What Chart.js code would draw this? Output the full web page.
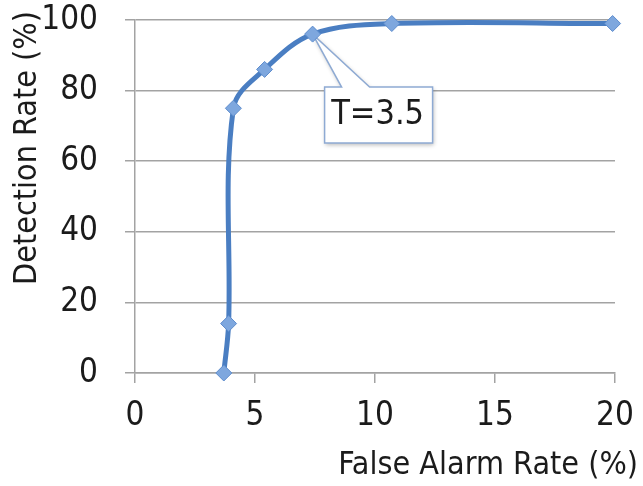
<!DOCTYPE html>
<html>
<head>
<meta charset="utf-8">
<script src="https://cdn.jsdelivr.net/npm/chart.js@4/dist/chart.umd.min.js"></script>
<style>
  html, body { margin: 0; padding: 0; background: #ffffff; }
  #c { display: block; }
</style>
</head>
<body>
<canvas id="c" width="643" height="486"></canvas>
<script>
// ROC-style curve: detection rate vs. false alarm rate for varying threshold T
const falseAlarmRate = [3.7, 3.9, 4.1, 5.4, 7.4, 10.7, 19.9];
const detectionRate  = [0, 14, 75, 86, 96, 99, 99];

const xTickValues = [0, 5, 10, 15, 20];
const yTickValues = [0, 20, 40, 60, 80, 100];

const xTitle = 'False Alarm Rate (%)';
const yTitle = 'Detection Rate (%)';

// operating point highlighted with a callout
const calloutIndex = 4;
const calloutText = 'T=3.5';

const FONT = "'Liberation Sans Narrow', 'DejaVu Sans Condensed', 'Liberation Sans', sans-serif";
const AXIS_GREY = '#a3a3a3';
const TEXT = '#1b1b1b';

const points = falseAlarmRate.map((x, i) => ({ x: x, y: detectionRate[i] }));

// Callout box with a wedge pointing at the selected point
const calloutPlugin = {
  id: 'callout',
  beforeDatasetsDraw(chart) {
    const ctx = chart.ctx;
    const xs = chart.scales.x, ys = chart.scales.y;
    const px = xs.getPixelForValue(falseAlarmRate[calloutIndex]);
    const py = ys.getPixelForValue(detectionRate[calloutIndex]);
    const L = px + 12, R = px + 120, T = py + 53, B = py + 109;
    const w1 = px + 29, w2 = px + 57;
    ctx.save();
    ctx.beginPath();
    ctx.moveTo(L, T);
    ctx.lineTo(w1, T);
    ctx.lineTo(px, py);
    ctx.lineTo(w2, T);
    ctx.lineTo(R, T);
    ctx.lineTo(R, B);
    ctx.lineTo(L, B);
    ctx.closePath();
    ctx.shadowColor = 'rgba(0,0,0,0.28)';
    ctx.shadowBlur = 4;
    ctx.shadowOffsetX = 1;
    ctx.shadowOffsetY = 2;
    ctx.fillStyle = '#ffffff';
    ctx.fill();
    ctx.shadowColor = 'transparent';
    ctx.lineWidth = 1.5;
    ctx.strokeStyle = '#8eaad3';
    ctx.stroke();
    ctx.fillStyle = TEXT;
    ctx.font = '34px ' + FONT;
    ctx.textAlign = 'center';
    ctx.textBaseline = 'middle';
    ctx.fillText(calloutText, px + 65, py + 81);
    ctx.restore();
  }
};

// Axis titles
const axisTitlePlugin = {
  id: 'axisTitles',
  afterDraw(chart) {
    const ctx = chart.ctx;
    ctx.save();
    ctx.fillStyle = TEXT;
    ctx.font = '32px ' + FONT;
    ctx.textAlign = 'right';
    ctx.textBaseline = 'middle';
    ctx.fillText(xTitle, 638, 466);
    ctx.translate(28, 148);
    ctx.rotate(-Math.PI / 2);
    ctx.textAlign = 'center';
    ctx.fillText(yTitle, 0, 0);
    ctx.restore();
  }
};

new Chart(document.getElementById('c'), {
  type: 'scatter',
  data: {
    datasets: [{
      data: points,
      showLine: true,
      tension: 0.35,
      borderColor: '#4a7ec2',
      borderWidth: 5,
      pointStyle: 'rectRot',
      pointRadius: 8,
      pointBackgroundColor: '#7ea7de',
      pointBorderColor: '#5e8dcd',
      pointBorderWidth: 1,
      clip: false
    }]
  },
  options: {
    responsive: false,
    animation: false,
    devicePixelRatio: 1,
    layout: { padding: { top: 20, right: 28, left: 0, bottom: 0 } },
    plugins: {
      legend: { display: false },
      tooltip: { enabled: false }
    },
    scales: {
      x: {
        type: 'linear',
        min: 0,
        max: 20,
        afterBuildTicks(scale) { scale.ticks = xTickValues.map(v => ({ value: v })); },
        afterFit(scale) {
          scale.height = 113;
          scale.paddingLeft = 0; scale.paddingRight = 0;
          scale.paddingTop = 0; scale.paddingBottom = 0;
        },
        ticks: { font: { family: FONT, size: 33 }, color: TEXT, padding: 14, maxRotation: 0 },
        grid: { drawOnChartArea: false, drawTicks: true, tickLength: 10, color: AXIS_GREY, lineWidth: 1.5 },
        border: { color: AXIS_GREY, width: 1.5 }
      },
      y: {
        min: 0,
        max: 100,
        afterBuildTicks(scale) { scale.ticks = yTickValues.map(v => ({ value: v })); },
        afterFit(scale) {
          scale.width = 135;
          scale.paddingLeft = 0; scale.paddingRight = 0;
          scale.paddingTop = 0; scale.paddingBottom = 0;
        },
        ticks: { font: { family: FONT, size: 33 }, color: TEXT, padding: 27 },
        grid: { tickLength: 10, color: AXIS_GREY, lineWidth: 1.5 },
        border: { color: AXIS_GREY, width: 1.5 }
      }
    }
  },
  plugins: [calloutPlugin, axisTitlePlugin]
});
</script>
</body>
</html>
